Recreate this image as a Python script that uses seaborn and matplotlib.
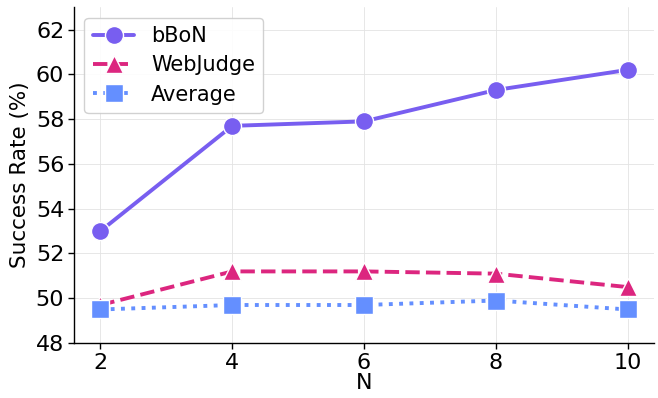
import pandas as pd
import matplotlib
matplotlib.use("Agg")
import matplotlib.pyplot as plt
import seaborn as sns

# Данные
n_values = [2, 4, 6, 8, 10]
bbon = [53.0, 57.7, 57.9, 59.3, 60.2]
webjudge = [49.7, 51.2, 51.2, 51.1, 50.5]
average = [49.5, 49.7, 49.7, 49.9, 49.5]

series = [
    ("bBoN", bbon, "#785EF0", "o", "-"),
    ("WebJudge", webjudge, "#DC267F", "^", "--"),
    ("Average", average, "#648FFF", "s", ":"),
]

sns.set_style("whitegrid")
plt.rcParams['font.family'] = ['DejaVu Sans']
plt.rcParams['text.color'] = 'black'
plt.rcParams['axes.labelcolor'] = 'black'
plt.rcParams['xtick.color'] = 'black'
plt.rcParams['ytick.color'] = 'black'

fig, ax = plt.subplots(figsize=(6.58, 3.98), dpi=100)
for name, vals, color, marker, ls in series:
    df = pd.DataFrame({"N": n_values, "Success Rate (%)": vals})
    sns.lineplot(data=df, x="N", y="Success Rate (%)", ax=ax, label=name,
                 color=color, marker=marker, linestyle=ls, linewidth=2.8,
                 markersize=13, markeredgecolor="white", markeredgewidth=1)

ax.set_ylim(48, 63)
ax.set_xticks(n_values)
ax.set_yticks(range(48, 63, 2))
ax.tick_params(labelsize=16, length=4, width=1, color="black", left=True, bottom=True, pad=3)
ax.set_xlabel("N", fontsize=16, labelpad=0)
ax.set_ylabel("Success Rate (%)", fontsize=15.5, labelpad=4)
ax.grid(True, color="#e3e3e3", linewidth=0.6, linestyle="-")
for side in ["top", "right"]:
    ax.spines[side].set_visible(False)
for side in ["left", "bottom"]:
    ax.spines[side].set_color("black")
    ax.spines[side].set_linewidth(1.0)
ax.legend(loc="upper left", fontsize=15, frameon=True, framealpha=0.9,
          handlelength=2.0, borderaxespad=0.5, labelspacing=0.45)

fig.subplots_adjust(left=0.1125, right=0.994, bottom=0.138, top=0.982)
plt.savefig("out.png", dpi=100)
